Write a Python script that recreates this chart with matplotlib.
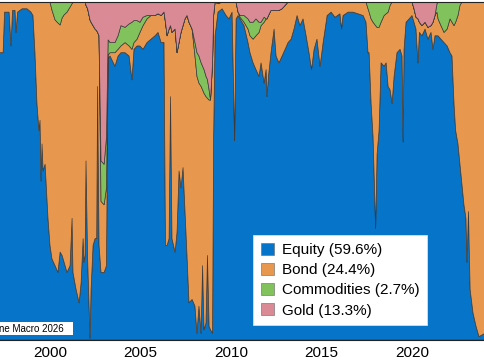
import matplotlib
matplotlib.use("Agg")
import matplotlib.pyplot as plt
from matplotlib.patches import Patch, Rectangle

plt.rcParams['font.family'] = ['Liberation Sans', 'DejaVu Sans']

# allocation history (decimal year, % of portfolio)
year = [1996.90, 1997.24, 1997.41, 1997.49, 1997.74, 1997.85, 1997.93, 1998.07, 1998.12, 1998.21,
        1998.46, 1998.73, 1998.95, 1999.06, 1999.17, 1999.28, 1999.39, 1999.45, 1999.51, 1999.56,
        1999.62, 1999.73, 1999.89, 2000.00, 2000.11, 2000.28, 2000.44, 2000.56, 2000.67, 2000.78,
        2000.94, 2001.11, 2001.22, 2001.27, 2001.44, 2001.61, 2001.72, 2001.83, 2001.88, 2001.94,
        2001.99, 2002.08, 2002.16, 2002.21, 2002.27, 2002.38, 2002.49, 2002.58, 2002.63, 2002.71,
        2002.82, 2002.99, 2003.12, 2003.21, 2003.32, 2003.59, 2003.76, 2003.92, 2004.15, 2004.37,
        2004.53, 2004.64, 2004.81, 2004.97, 2005.14, 2005.36, 2005.58, 2005.80, 2005.97, 2006.14,
        2006.30, 2006.38, 2006.47, 2006.58, 2006.66, 2006.74, 2006.91, 2007.02, 2007.13, 2007.24,
        2007.35, 2007.46, 2007.57, 2007.68, 2007.85, 2008.01, 2008.12, 2008.23, 2008.35, 2008.43,
        2008.51, 2008.62, 2008.70, 2008.79, 2008.87, 2008.98, 2009.04, 2009.12, 2009.28, 2009.51,
        2009.73, 2009.89, 2010.06, 2010.20, 2010.28, 2010.39, 2010.50, 2010.72, 2010.94, 2011.05,
        2011.22, 2011.38, 2011.55, 2011.66, 2011.83, 2011.94, 2011.99, 2012.07, 2012.21, 2012.38,
        2012.49, 2012.65, 2012.82, 2012.99, 2013.15, 2013.32, 2013.48, 2013.65, 2013.81, 2013.98,
        2014.15, 2014.31, 2014.45, 2014.59, 2014.75, 2014.92, 2015.09, 2015.31, 2015.53, 2015.75,
        2016.02, 2016.11, 2016.19, 2016.47, 2016.74, 2017.02, 2017.30, 2017.46, 2017.57, 2017.63,
        2017.74, 2017.85, 2017.99, 2018.07, 2018.18, 2018.29, 2018.46, 2018.57, 2018.68, 2018.79,
        2018.90, 2019.01, 2019.17, 2019.34, 2019.45, 2019.51, 2019.56, 2019.67, 2019.84, 2020.00,
        2020.11, 2020.22, 2020.33, 2020.41, 2020.55, 2020.72, 2020.88, 2021.05, 2021.16, 2021.27,
        2021.38, 2021.44, 2021.60, 2021.77, 2021.94, 2022.10, 2022.21, 2022.32, 2022.41, 2022.54,
        2022.65, 2022.76, 2022.87, 2022.98, 2023.04, 2023.12, 2023.21, 2023.37, 2023.54, 2023.70,
        2023.87, 2024.04, 2024.31]

equity = [85, 85, 85, 97, 97, 87, 97.5, 97.5, 91, 97,
          98, 98, 97, 96, 85, 70, 62, 65, 47, 58,
          50, 52, 36, 28, 24, 22, 20, 26, 25, 23,
          20, 22, 36, 20, 15, 11, 17, 30, 23, 25,
          53, 24, 10, 0.5, 15, 28, 30, 30, 75, 28,
          20, 20, 22, 83.4, 84, 81, 84, 85, 85, 84,
          77, 86, 87, 87, 86, 88, 89, 90, 91, 88,
          88, 28, 28, 30, 72, 30, 26, 32, 50, 45,
          51, 38, 25, 11, 12, 10, 2, 10, 2, 22,
          3, 5, 25, 4, 3, 2, 60, 90, 97, 98,
          96, 95, 97, 59, 95, 96, 95, 93, 88, 85,
          82, 80, 78, 82, 76, 80, 72, 78, 85, 92,
          84, 82, 84, 86, 88, 89, 92, 96, 93, 95,
          90, 85, 80, 86, 89, 81, 88, 96, 97, 95.5,
          96.5, 92, 96, 97, 97, 96.5, 96, 94, 85, 85,
          70, 60, 33, 55, 62, 82, 81, 82, 75, 74,
          70, 78, 85, 86, 84, 58.6, 86, 94, 95, 96,
          94, 92, 82, 91, 90, 92, 89, 91, 86, 90,
          90, 90, 89, 88, 87, 85, 84, 70, 62, 58,
          52, 46, 40, 36, 23, 38, 15, 8, 4, 1,
          1.5, 2, 3]

bond = [15, 15, 15, 3, 3, 13, 2.5, 2.5, 9, 3,
        2, 2, 3, 4, 15, 30, 38, 35, 53, 42,
        50, 48, 64, 72, 73.6, 72.7, 73.8, 67.2, 70.3, 73.2,
        77, 76.5, 63.5, 80, 85, 89, 83, 70, 77, 75,
        46, 74, 86, 94.2, 79, 65, 62, 61.5, 16, 62,
        21, 20, 23, 0.9, 1, 4, 2, 2, 3, 3,
        9, 2, 2, 4, 7, 7, 7, 6, 5.5, 8,
        9, 66, 62, 62, 21, 61, 66, 53, 38, 46,
        42, 57, 71, 83, 80, 74, 76, 66, 73, 52,
        70, 67, 46.5, 67, 68, 80, 36, 10, 2.5, 2,
        4, 5, 3, 41, 5, 1, 0.5, 1, 4, 5,
        7, 10, 13, 11, 18, 15, 23, 18, 12.5, 5.5,
        13.5, 15.5, 14, 13, 12, 11, 8, 4, 7, 5,
        10, 15, 20, 14, 11, 19, 12, 4, 3, 4.5,
        3.5, 8, 4, 3, 3, 3.5, 4, 6, 13, 12,
        25, 34, 60, 37.5, 30.5, 12, 15, 14.5, 22, 25,
        30, 22, 15, 14, 16, 41.4, 14, 6, 5, 4,
        4, 3.5, 13, 3, 3, 2, 3.5, 2, 8, 6,
        7, 5, 4, 3, 5, 10, 10, 23, 32, 38,
        47, 54, 60, 64, 77, 62, 85, 92, 96, 99,
        98.5, 98, 97]

commodities = [0, 0, 0, 0, 0, 0, 0, 0, 0, 0,
               0, 0, 0, 0, 0, 0, 0, 0, 0, 0,
               0, 0, 0, 0, 2.4, 5.3, 6.2, 6.8, 4.7, 3.8,
               3, 1.5, 0.5, 0, 0, 0, 0, 0, 0, 0,
               0, 0, 0, 0, 0, 0, 0, 0, 0, 0,
               12, 12, 15, 4.5, 3, 3, 4, 6, 4.5, 6.5,
               8, 6.5, 5.5, 3, 2.5, 1, 0, 0, 0, 0,
               0, 0, 0, 0, 0, 0, 0, 0, 0, 0,
               0, 0, 0, 0, 0, 4, 7, 8, 7, 7,
               7, 6, 5.5, 3, 0, 0, 0, 0, 0, 0,
               0, 0, 0, 0, 0, 0, 0.5, 2, 3, 4,
               5, 5, 3, 1, 1.5, 0, 0, 0, 0, 0,
               0, 0, 0, 0, 0, 0, 0, 0, 0, 0,
               0, 0, 0, 0, 0, 0, 0, 0, 0, 0,
               0, 0, 0, 0, 0, 0, 0, 0, 2, 3,
               5, 6, 7, 7.5, 7.5, 6, 4, 3.5, 3, 1,
               0, 0, 0, 0, 0, 0, 0, 0, 0, 0,
               0, 0, 0, 0, 0, 0, 0, 0, 0, 0,
               2.5, 5, 7, 9, 8, 5, 6, 7, 6, 4,
               1, 0, 0, 0, 0, 0, 0, 0, 0, 0,
               0, 0, 0]

gold = [0, 0, 0, 0, 0, 0, 0, 0, 0, 0,
        0, 0, 0, 0, 0, 0, 0, 0, 0, 0,
        0, 0, 0, 0, 0, 0, 0, 0, 0, 0,
        0, 0, 0, 0, 0, 0, 0, 0, 0, 0,
        1, 2, 4, 5.3, 6, 7, 8, 8.5, 9, 10,
        47, 48, 40, 11.2, 12, 12, 10, 7, 7.5, 6.5,
        6, 5.5, 5.5, 6, 4.5, 4, 4, 4, 3.5, 4,
        3, 6, 10, 8, 7, 9, 8, 15, 12, 9,
        7, 5, 4, 6, 8, 12, 15, 16, 18, 19,
        20, 22, 23, 26, 29, 18, 4, 0, 0.5, 0,
        0, 0, 0, 0, 0, 3, 4, 4, 5, 6,
        6, 5, 6, 6, 4.5, 5, 5, 4, 2.5, 2.5,
        2.5, 2.5, 2, 1, 0, 0, 0, 0, 0, 0,
        0, 0, 0, 0, 0, 0, 0, 0, 0, 0,
        0, 0, 0, 0, 0, 0, 0, 0, 0, 0,
        0, 0, 0, 0, 0, 0, 0, 0, 0, 0,
        0, 0, 0, 0, 0, 0, 0, 0, 0, 0,
        2, 4.5, 5, 6, 7, 6, 7.5, 7, 6, 4,
        0.5, 0, 0, 0, 0, 0, 0, 0, 0, 0,
        0, 0, 0, 0, 0, 0, 0, 0, 0, 0,
        0, 0, 0]

labels = ['Equity (59.6%)', 'Bond (24.4%)', 'Commodities (2.7%)', 'Gold (13.3%)']
colors = ['#0574C9', '#E8984E', '#82C25C', '#D98A95']
xticks = [2000, 2005, 2010, 2015, 2020]

fig = plt.figure(figsize=(4.85, 3.6), dpi=100)
ax = fig.add_axes([-0.01, 20 / 360, 1.02, 338 / 360])

ax.stackplot(year, equity, bond, commodities, gold, colors=colors,
             edgecolor='#3a3a3a', linewidth=0.5)

ax.set_xlim(1996.97, 2024.30)
ax.set_ylim(0, 100)
ax.set_xticks(xticks)
ax.set_xticklabels([str(t) for t in xticks])
ax.set_yticks([])
ax.tick_params(axis='x', length=0, pad=4, labelsize=11)
for s in ax.spines.values():
    s.set_linewidth(0.8)
    s.set_color('#222222')

handles = [Patch(facecolor=c, edgecolor='#666666', linewidth=0.4) for c in colors]
leg = ax.legend(handles, labels, loc='upper left', bbox_to_anchor=(253 / 485, 1 - 235 / 360),
                bbox_transform=fig.transFigure, fontsize=11, frameon=True, fancybox=False,
                framealpha=1, edgecolor='#dddddd', borderaxespad=0, borderpad=0.5,
                labelspacing=0.38, handlelength=0.85, handleheight=0.85, handletextpad=0.55)
leg.get_frame().set_linewidth(0.6)

# cropped watermark at the bottom left
fig.patches.append(Rectangle((0, 25 / 360), 73 / 485, 13 / 360, transform=fig.transFigure,
                             facecolor='white', edgecolor='none', zorder=5))
fig.text(64 / 485, 31.5 / 360, 'ne Macro 2026', fontsize=7, ha='right', va='center', zorder=6)

fig.savefig('out.png', dpi=100)
